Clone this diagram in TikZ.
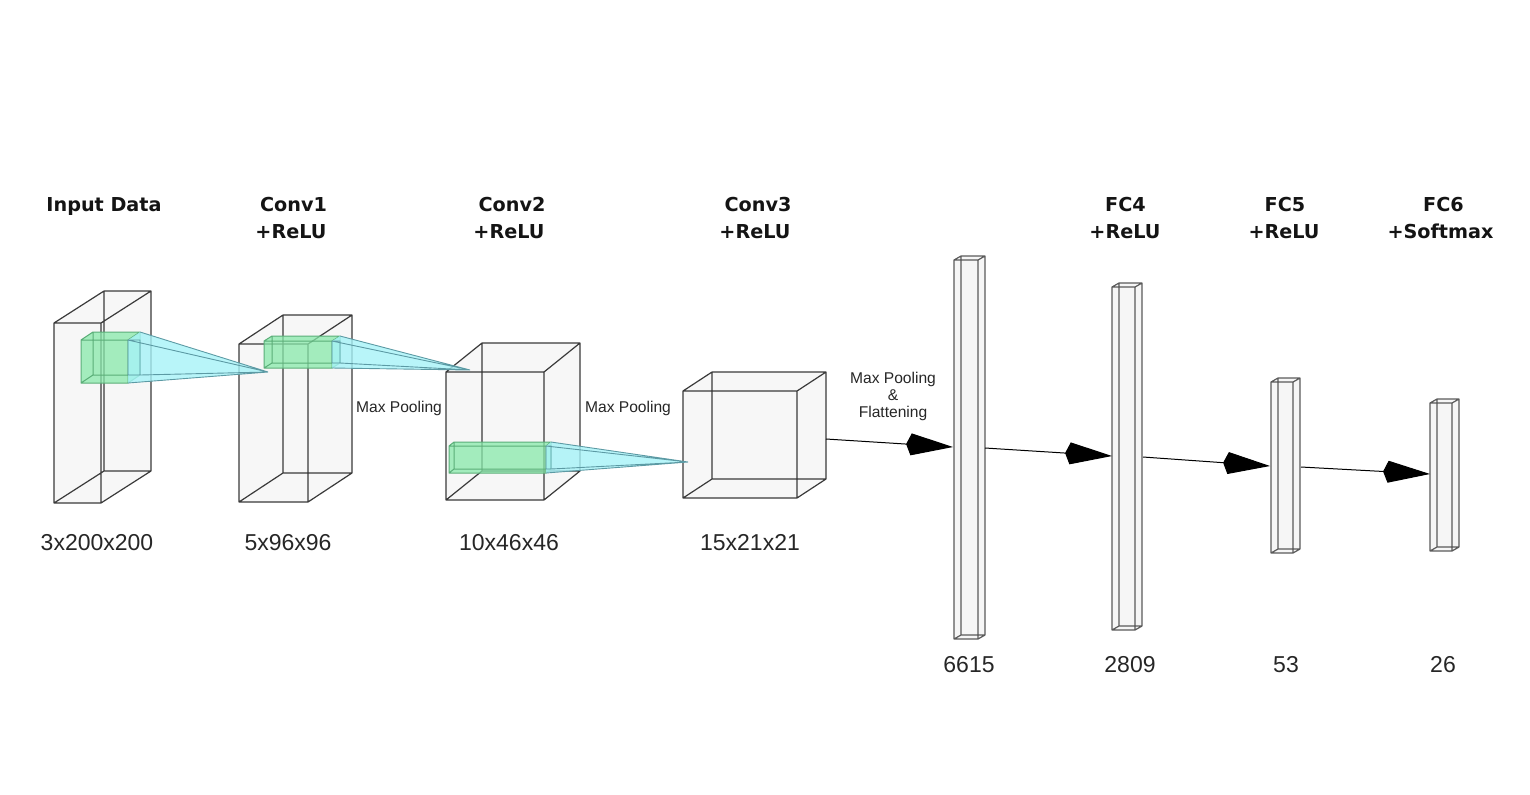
\documentclass[tikz,border=0pt]{standalone}
\usepackage{fontspec}
\setmainfont{Liberation Sans}
\newfontfamily\titlefont{DejaVu Sans}
\usetikzlibrary{arrows.meta}
\definecolor{edgegray}{HTML}{3A3A3A}
\definecolor{bargray}{HTML}{5A5A5A}
\definecolor{boxgray}{HTML}{F6F6F6}
\definecolor{kgreen}{HTML}{88E9AA}
\definecolor{kgreenedge}{HTML}{5AAE78}
\definecolor{kcyan}{HTML}{A6F3F8}
\definecolor{kcyanedge}{HTML}{5C9AA4}
\definecolor{titlecol}{HTML}{141414}
\definecolor{numcol}{HTML}{262626}
% #1 x1, #2 y1, #3 x2, #4 y2 (front face), #5 dx, #6 rise, #7 fill style, #8 edge style
\newcommand\drawcuboid[8]{%
  \fill[#7] (#1,#2) -- (#1+#5,#2-#6) -- (#3+#5,#2-#6) -- (#3+#5,#4-#6) -- (#3,#4) -- (#1,#4) -- cycle;
  \draw[#8] (#1,#2) rectangle (#3,#4)
    (#1+#5,#2-#6) rectangle (#3+#5,#4-#6)
    (#1,#2) -- (#1+#5,#2-#6) (#3,#2) -- (#3+#5,#2-#6)
    (#3,#4) -- (#3+#5,#4-#6) (#1,#4) -- (#1+#5,#4-#6);
}
% #1 x2, #2 y1, #3 y2, #4 dx, #5 rise, #6 apex x, #7 apex y
\newcommand\drawcone[7]{%
  \fill[conefill] (#1,#2) -- (#1+#4,#2-#5) -- (#6,#7) -- (#1,#3) -- cycle;
  \draw[coneedge] (#1,#2) -- (#6,#7) (#1+#4,#2-#5) -- (#6,#7)
    (#1,#3) -- (#6,#7) (#1+#4,#3-#5) -- (#6,#7)
    (#1,#2) rectangle (#1+#4,#3-#5);
}
\begin{document}
\begin{tikzpicture}[x=0.5pt,y=-0.5pt,
  boxfillstyle/.style={fill=boxgray,fill opacity=0.9},
  boxedge/.style={draw=edgegray,line width=0.6pt,line join=round},
  barfill/.style={fill=boxgray},
  baredge/.style={draw=bargray,line width=0.6pt,line join=round},
  greenfill/.style={fill=kgreen,fill opacity=0.75},
  greenedge/.style={draw=kgreenedge,line width=0.5pt,line join=round},
  conefill/.style={fill=kcyan,fill opacity=0.8},
  coneedge/.style={draw=kcyanedge,line width=0.45pt},
  conn/.style={draw=black,line width=0.5pt,-{Kite[length=23.5pt,width=11pt,inset=2.5pt]}},
  title/.style={font=\titlefont\bfseries\fontsize{9.6}{11}\selectfont,text=titlecol,anchor=base,inner sep=0pt},
  dimlabel/.style={font=\fontsize{11.5}{13}\selectfont,text=numcol,anchor=base,inner sep=0pt},
  smalllabel/.style={font=\fontsize{7.8}{8.5}\selectfont,text=numcol,anchor=base,inner sep=0pt,align=center}]
\useasboundingbox (0,0) rectangle (1530,794);

% ---- feature-map boxes
\drawcuboid{54}{323}{101}{503}{50}{32}{boxfillstyle}{boxedge}
\drawcuboid{239}{344}{308}{502}{44}{29}{boxfillstyle}{boxedge}
\drawcuboid{446}{372}{544}{500}{36}{29}{boxfillstyle}{boxedge}
\drawcuboid{683}{391}{797}{498}{29}{19}{boxfillstyle}{boxedge}

% ---- kernels and receptive cones
\drawcuboid{81}{340}{128}{383}{12}{8}{greenfill}{greenedge}
\drawcone{128}{340}{383}{12}{8}{268}{372}
\drawcuboid{264}{341}{332}{368}{8}{5}{greenfill}{greenedge}
\drawcone{332}{341}{368}{8}{5}{470}{370}
\drawcuboid{449}{446}{546}{473}{5}{4}{greenfill}{greenedge}
\drawcone{546}{446}{473}{5}{4}{688}{462}

% ---- fully connected bars
\drawcuboid{954}{260}{978}{639}{7}{4}{barfill}{baredge}
\drawcuboid{1112}{287}{1135}{630}{7}{4}{barfill}{baredge}
\drawcuboid{1271}{382}{1293}{553}{7}{4}{barfill}{baredge}
\drawcuboid{1430}{403}{1452}{551}{7}{4}{barfill}{baredge}

% ---- connectors
\coordinate (c3out) at (826,439);
\coordinate (fc0in) at (953,447);
\coordinate (fc0out) at (985,448);
\coordinate (fc4in) at (1112,456);
\coordinate (fc4out) at (1143,457);
\coordinate (fc5in) at (1270,466);
\coordinate (fc5out) at (1301,467);
\coordinate (fc6in) at (1430,474);
\draw[conn] (c3out) -- (fc0in);
\draw[conn] (fc0out) -- (fc4in);
\draw[conn] (fc4out) -- (fc5in);
\draw[conn] (fc5out) -- (fc6in);

% ---- titles
\node[title] (tin) at (104,211) {Input Data};
\node[title] (tc1a) at (293.5,211) {Conv1};
\node[title] (tc1b) at (291,238.5) {+ReLU};
\node[title] (tc2a) at (512,211) {Conv2};
\node[title] (tc2b) at (509,238.5) {+ReLU};
\node[title] (tc3a) at (758,211) {Conv3};
\node[title] (tc3b) at (755,238.5) {+ReLU};
\node[title] (tf4a) at (1125.5,211) {FC4};
\node[title] (tf4b) at (1125,238.5) {+ReLU};
\node[title] (tf5a) at (1285,211) {FC5};
\node[title] (tf5b) at (1284,238.5) {+ReLU};
\node[title] (tf6a) at (1443.5,211) {FC6};
\node[title] (tf6b) at (1440.5,238.5) {+Softmax};

% ---- dimension labels
\node[dimlabel] (d0) at (97,550) {3x200x200};
\node[dimlabel] (d1) at (288,550) {5x96x96};
\node[dimlabel] (d2) at (509,550) {10x46x46};
\node[dimlabel] (d3) at (750,550) {15x21x21};
\node[dimlabel] (d4) at (969,672) {6615};
\node[dimlabel] (d5) at (1130,672) {2809};
\node[dimlabel] (d6) at (1286,672) {53};
\node[dimlabel] (d7) at (1443,672) {26};

% ---- operation labels
\node[smalllabel] (mp1) at (399,412) {Max Pooling};
\node[smalllabel] (mp2) at (628,412) {Max Pooling};
\node[smalllabel] (mp3a) at (893,383.5) {Max Pooling};
\node[smalllabel] (mp3b) at (893,400.5) {\&};
\node[smalllabel] (mp3c) at (893,417.5) {Flattening};
\end{tikzpicture}
\end{document}
